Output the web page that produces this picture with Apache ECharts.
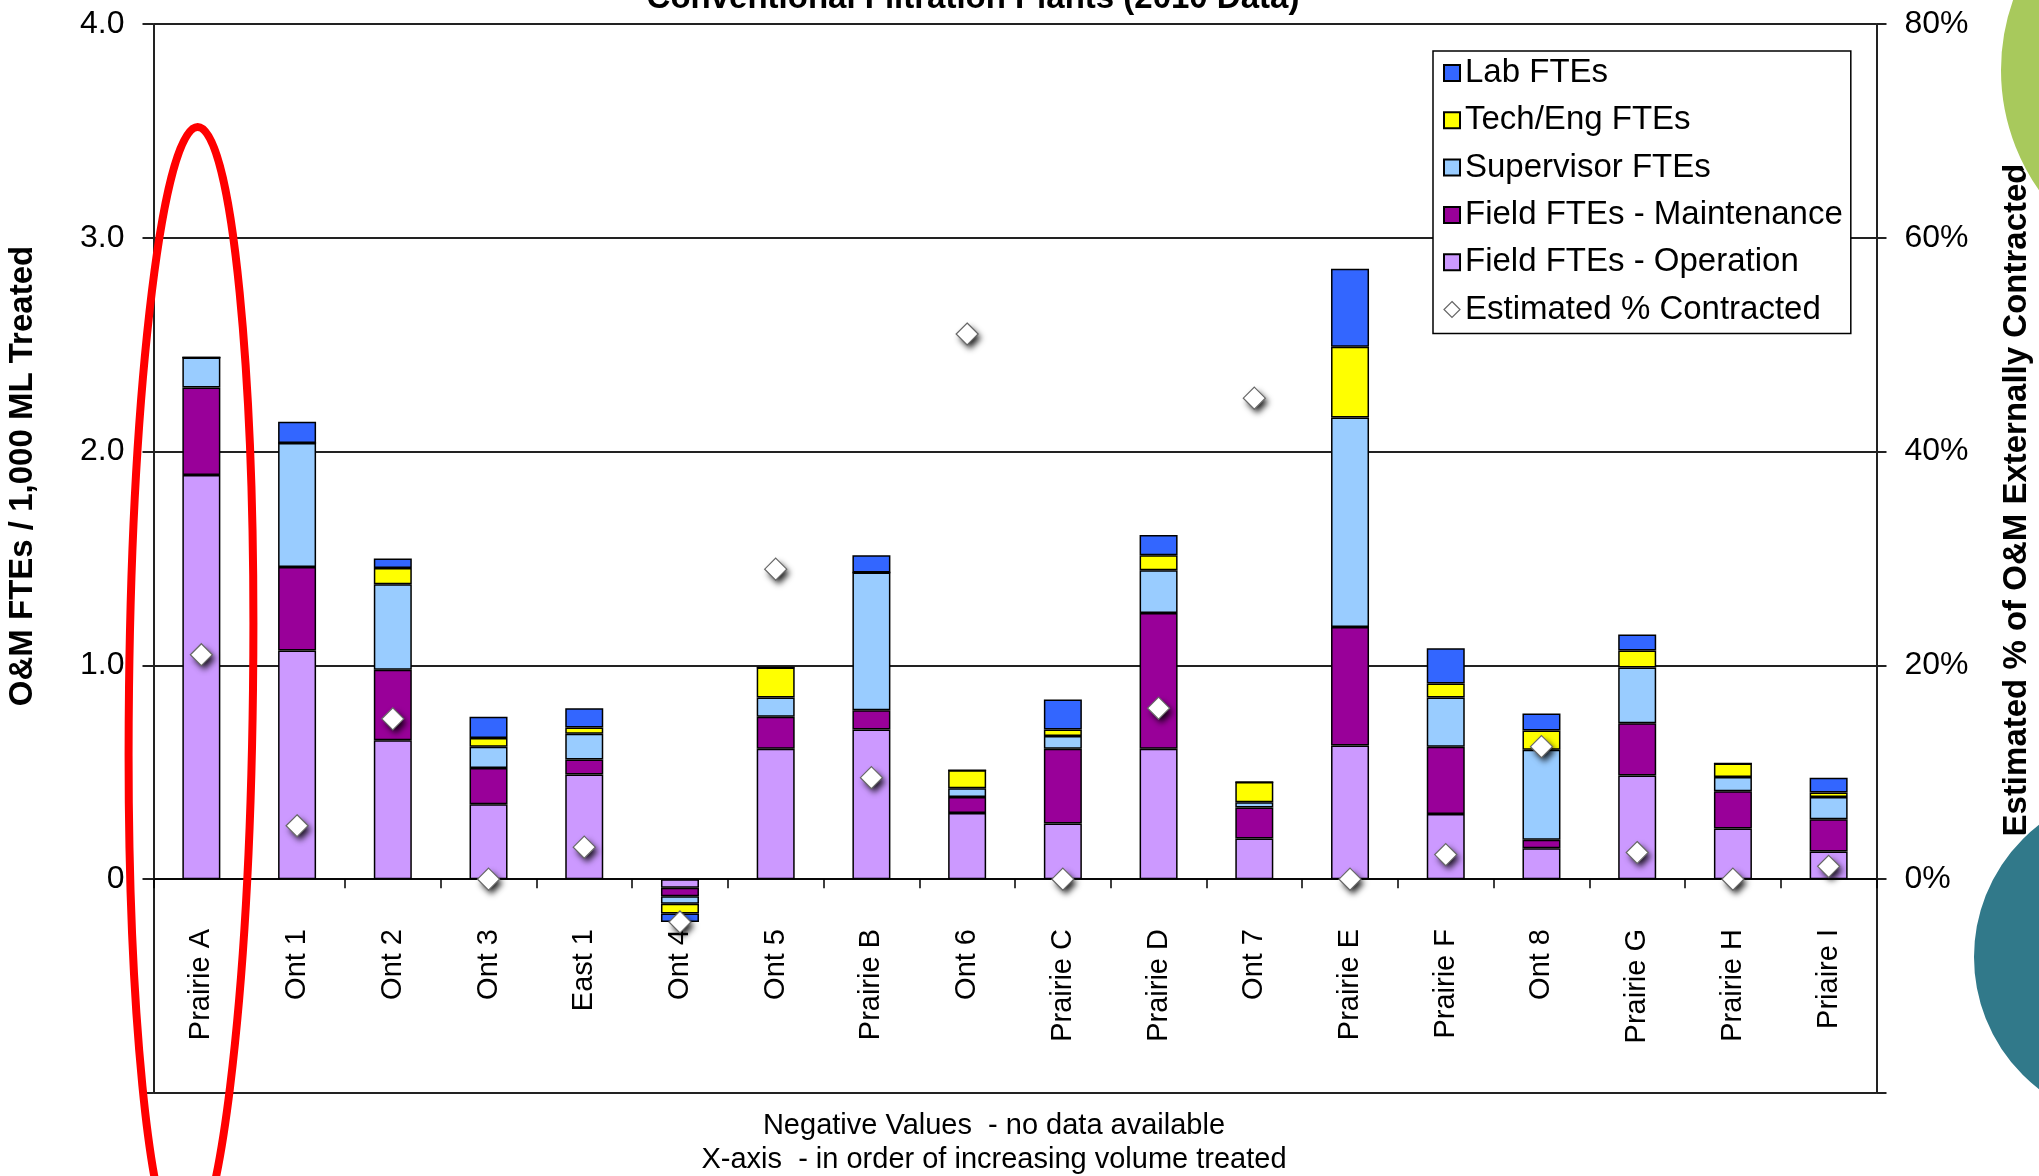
<!DOCTYPE html>
<html>
<head>
<meta charset="utf-8">
<script src="https://cdn.jsdelivr.net/npm/echarts@6/dist/echarts.min.js"></script>
<style>
  html, body { margin: 0; padding: 0; background: #ffffff; }
  #chart { width: 2039px; height: 1176px; }
</style>
</head>
<body>
<div id="chart"></div>
<script>
// Plants, in order of increasing volume treated
const categories = ['Prairie A', 'Ont 1', 'Ont 2', 'Ont 3', 'East 1', 'Ont 4', 'Ont 5', 'Prairie B', 'Ont 6',
  'Prairie C', 'Prairie D', 'Ont 7', 'Prairie E', 'Prairie F', 'Ont 8', 'Prairie G', 'Prairie H', 'Priaire I'];

// O&M FTEs per 1,000 ML treated, by staff group (negative = no data available)
const fieldOperation   = [1.89, 1.07, 0.65, 0.35, 0.49, -0.04, 0.61, 0.70, 0.31, 0.26, 0.61, 0.19, 0.625, 0.305, 0.145, 0.485, 0.237, 0.13];
const fieldMaintenance = [0.41, 0.39, 0.33, 0.17, 0.07, -0.04, 0.15, 0.09, 0.075, 0.35, 0.635, 0.145, 0.555, 0.315, 0.04, 0.245, 0.174, 0.15];
const supervisor       = [0.14, 0.58, 0.40, 0.10, 0.12, -0.035, 0.09, 0.645, 0.04, 0.06, 0.20, 0.025, 0.98, 0.23, 0.42, 0.26, 0.067, 0.105];
const techEng          = [0, 0, 0.075, 0.04, 0.03, -0.045, 0.14, 0, 0.085, 0.03, 0.07, 0.095, 0.33, 0.065, 0.09, 0.08, 0.063, 0.02];
const lab              = [0, 0.10, 0.045, 0.10, 0.09, -0.04, 0, 0.08, 0, 0.14, 0.095, 0, 0.365, 0.165, 0.08, 0.075, 0, 0.07];

// Estimated % of O&M externally contracted (right axis)
const pctContracted = [21, 5, 15, 0, 3, -4, 29, 9.5, 51, 0, 16, 45, 0, 2.3, 12.4, 2.5, 0, 1.2];

// Axis tick values
const leftTicks = { min: -1, max: 4, step: 1 };
const rightTicks = { min: -20, max: 80, step: 20 };

const FONT = "'Liberation Sans', Arial, sans-serif";
const chart = echarts.init(document.getElementById('chart'), null, { renderer: 'canvas' });

const barBorder = { borderColor: '#000000', borderWidth: 1.5 };
function barSeries(name, data, color) {
  return {
    name: name,
    type: 'bar',
    stack: 'fte',
    barWidth: 38,
    data: data,
    itemStyle: Object.assign({ color: color }, barBorder),
    emphasis: { disabled: true }
  };
}

const option = {
  backgroundColor: '#ffffff',
  animation: false,
  textStyle: { fontFamily: FONT },
  grid: { left: 153.5, right: 162.5, top: 24, bottom: 83, outerBoundsMode: 'none' },
  legend: {
    orient: 'vertical',
    left: 1433,
    top: 51,
    padding: [2, 8, 4, 10],
    itemWidth: 16,
    itemHeight: 16,
    itemGap: 7.3,
    borderColor: '#000000',
    borderWidth: 1.5,
    backgroundColor: '#ffffff',
    textStyle: { fontFamily: FONT, fontSize: 33, color: '#000000', lineHeight: 40 },
    data: [
      { name: 'Lab FTEs', icon: 'rect' },
      { name: 'Tech/Eng FTEs', icon: 'rect' },
      { name: 'Supervisor FTEs', icon: 'rect' },
      { name: 'Field FTEs - Maintenance', icon: 'rect' },
      { name: 'Field FTEs - Operation', icon: 'rect' },
      { name: 'Estimated % Contracted', icon: 'diamond',
        itemStyle: { color: '#ffffff', opacity: 1, borderColor: '#666666', borderWidth: 1.2 } }
    ],
    selectedMode: false
  },
  xAxis: {
    type: 'category',
    data: categories,
    boundaryGap: true,
    axisLine: { onZero: true, onZeroAxisIndex: 0, lineStyle: { color: '#000000', width: 1.5 } },
    axisTick: { show: true, length: 9, alignWithLabel: false, lineStyle: { color: '#000000', width: 1.5 } },
    // labels hang just under the zero line
    axisLabel: { rotate: 90, margin: -164, interval: 0, fontSize: 29, fontFamily: FONT, color: '#000000' },
    splitLine: { show: false }
  },
  yAxis: [
    {
      type: 'value',
      min: leftTicks.min,
      max: leftTicks.max,
      interval: leftTicks.step,
      axisLine: { show: true, lineStyle: { color: '#222222', width: 2 } },
      axisTick: { show: true, length: 11, lineStyle: { color: '#222222', width: 2 } },
      axisLabel: {
        margin: 29,
        fontSize: 32,
        fontFamily: FONT,
        color: '#000000',
        formatter: function (v) { return v < 0 ? '' : (v === 0 ? '0' : v.toFixed(1)); }
      },
      splitLine: { show: true, lineStyle: { color: '#222222', width: 1.8 } }
    },
    {
      type: 'value',
      position: 'right',
      min: rightTicks.min,
      max: rightTicks.max,
      interval: rightTicks.step,
      axisLine: { show: true, lineStyle: { color: '#222222', width: 2 } },
      axisTick: { show: true, length: 10, lineStyle: { color: '#222222', width: 2 } },
      axisLabel: {
        margin: 28,
        fontSize: 32,
        fontFamily: FONT,
        color: '#000000',
        formatter: function (v) { return v < 0 ? '' : v + '%'; }
      },
      splitLine: { show: false }
    }
  ],
  series: [
    barSeries('Field FTEs - Operation', fieldOperation, '#cc99ff'),
    barSeries('Field FTEs - Maintenance', fieldMaintenance, '#990099'),
    barSeries('Supervisor FTEs', supervisor, '#99ccff'),
    barSeries('Tech/Eng FTEs', techEng, '#ffff00'),
    barSeries('Lab FTEs', lab, '#3366ff'),
    // drop shadow under each diamond (fill only, so the shadow stays outside the marker)
    {
      name: 'Estimated % Contracted shadow',
      type: 'scatter',
      yAxisIndex: 1,
      symbol: 'diamond',
      symbolSize: 22,
      z: 4,
      silent: true,
      data: pctContracted,
      itemStyle: {
        color: '#ffffff',
        opacity: 1,
        borderWidth: 0,
        shadowColor: 'rgba(0,0,0,0.85)',
        shadowBlur: 6,
        shadowOffsetX: 3,
        shadowOffsetY: 4
      },
      emphasis: { disabled: true }
    },
    {
      name: 'Estimated % Contracted',
      type: 'scatter',
      yAxisIndex: 1,
      symbol: 'diamond',
      symbolSize: 22,
      z: 5,
      data: pctContracted,
      itemStyle: {
        color: '#ffffff',
        opacity: 1,
        borderColor: '#666666',
        borderWidth: 1.2
      },
      emphasis: { disabled: true }
    }
  ],
  graphic: [
    {
      type: 'text', x: 973, y: -1, z: 10,
      style: { text: 'Conventional Filtration Plants (2010 Data)', font: "bold 33px " + FONT, fill: '#000000', align: 'center', verticalAlign: 'middle' }
    },
    {
      type: 'text', x: 23, y: 476, rotation: Math.PI / 2, z: 10,
      style: { text: 'O&M FTEs / 1,000 ML Treated', font: "bold 33px " + FONT, fill: '#000000', align: 'center', verticalAlign: 'middle' }
    },
    {
      type: 'text', x: 2017, y: 500, rotation: Math.PI / 2, z: 10,
      style: { text: 'Estimated % of O&M Externally Contracted', font: "bold 33px " + FONT, fill: '#000000', align: 'center', verticalAlign: 'middle' }
    },
    {
      type: 'text', x: 994, y: 1126, z: 10,
      style: { text: 'Negative Values  - no data available', font: "29px " + FONT, fill: '#000000', align: 'center', verticalAlign: 'middle' }
    },
    {
      type: 'text', x: 994, y: 1160, z: 10,
      style: { text: 'X-axis  - in order of increasing volume treated', font: "29px " + FONT, fill: '#000000', align: 'center', verticalAlign: 'middle' }
    },
    {
      type: 'circle', z: 20,
      shape: { cx: 2210, cy: 70, r: 210 },
      style: { fill: '#a8c95c', stroke: '#ffffff', lineWidth: 2 }
    },
    {
      type: 'circle', z: 20,
      shape: { cx: 2141, cy: 957, r: 168 },
      style: { fill: '#31798a', stroke: '#ffffff', lineWidth: 2 }
    },
    {
      type: 'ellipse', z: 30,
      x: 191, y: 689, rotation: -0.012,
      shape: { cx: 0, cy: 0, rx: 62, ry: 562 },
      style: { fill: 'none', stroke: '#ff0000', lineWidth: 8 }
    }
  ]
};

chart.setOption(option);
</script>
</body>
</html>
